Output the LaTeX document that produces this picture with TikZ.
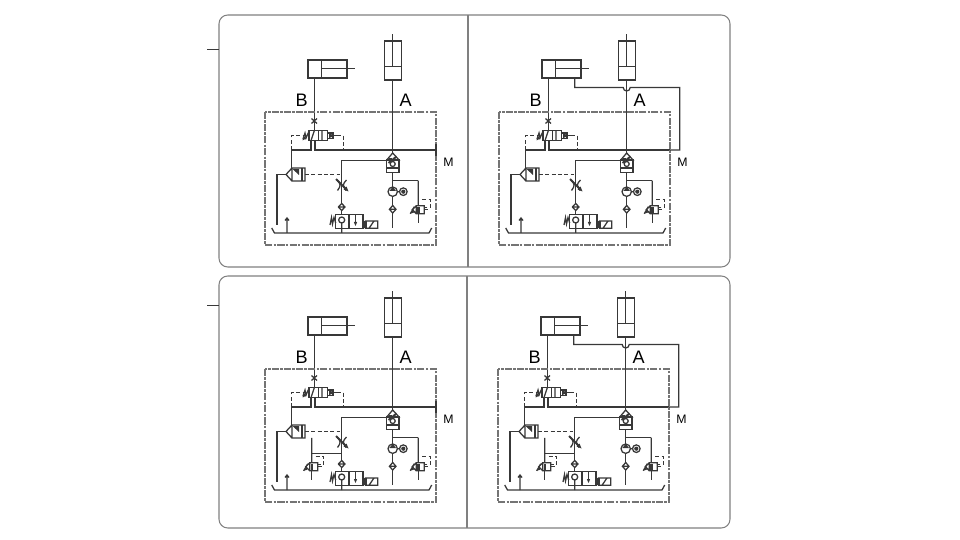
\documentclass[tikz,border=0pt]{standalone}
\usepackage{fontspec}
\setmainfont{Liberation Sans}
\definecolor{ink}{gray}{0.22}
\definecolor{rim}{gray}{0.5}
\tikzset{
  pipe/.style={draw=ink,line width=.72pt},
  heavy/.style={draw=ink,line width=1.1pt},
  pilot/.style={draw=ink,line width=.72pt,dash pattern=on 2.2pt off 1.4pt},
  solid/.style={fill=ink,draw=none},
  hull/.style={draw=rim,line width=.6pt,rounded corners=5pt},
  zone/.style={draw=ink!70,line width=.72pt,dash pattern=on 4pt off .7pt on 1.5pt off .7pt},
  bigtag/.style={inner sep=0pt,font=\fontsize{10.3}{12}\selectfont},
  smalltag/.style={inner sep=0pt,font=\fontsize{7}{8}\selectfont},
  reliefvalve/.pic={
    \draw[pipe] (0,0) -- (0,25) (-2,25) rectangle (6,33) (-2,25) -- (-6,29) -- (-2,33);
    \draw[pipe] (0,33) -- (0,42) (6,29) -- (10,29);
    \draw[pilot] (4,19) -- (12,19) -- (12,27) -- (6,27);
    \draw[pipe] (-8,33) -- (-4,26);
    \fill[solid] (-8.5,33) -- (-5,29) -- (-4.5,32) -- cycle;
    \fill[solid] (-1,26) rectangle (1.5,32);
  },
  circuit/.pic={
    % cylinders
    \draw[pipe] (308,60) rectangle (347,78) (321.7,60) -- (321.7,78);
    \draw[pipe] (321.7,68.7) -- (354.5,68.7);
    \draw[pipe] (384.3,41) rectangle (401.7,80);
    \draw[heavy] (384.3,66.5) -- (401.7,66.5);
    \draw[pipe] (392.7,34.5) -- (392.7,66.5) (392.7,80) -- (392.7,153);
    % change-over valve
    \draw[pipe] (314.3,78) -- (314.3,130.7);
    \draw[pipe] (311.5,118.5) -- (317,123.5) (317,118.5) -- (311.5,123.5);
    \draw[pipe] (309,130.7) rectangle (327.7,140.7) (318.4,130.7) -- (318.4,140.7);
    \draw[pipe] (314.3,130.7) -- (311,140.7) (322,130.7) -- (322,140.7);
    \draw[pipe] (303,139) -- (305,133) -- (306,138) -- (308,133.5) -- (309,136);
    \fill[solid] (302.5,140.5) -- (303.5,136) -- (306.5,138.5) -- cycle;
    \draw[pipe] (327.7,133) rectangle (333,138.5) (333,135.7) -- (337,135.7);
    \fill[solid] (329,133.2) -- (334.5,135.7) -- (329,138.2) -- cycle;
    \draw[pilot] (291.7,150) -- (291.7,135.7) -- (303.5,135.7);
    \draw[pilot] (337,135.7) -- (343.3,135.7) -- (343.3,150);
    \draw[pipe] (311,140.7) -- (311,150) -- (291.7,150) -- (291.7,168);
    \draw[pipe] (315,140.7) -- (315,150) -- (436,150);
    % pilot check
    \draw[pipe] (292,168) rectangle (305,181) (286,174.5) -- (292,168) (286,174.5) -- (292,181);
    \draw[heavy] (302,168) -- (302,181);
    \fill[solid] (292.5,169) -- (299,169) -- (299,175) -- cycle;
    \draw[pipe] (286,174.5) -- (277,174.5) -- (277,225);
    \draw[pilot] (305,174.5) -- (341.7,174.5);
    % throttle branch
    \draw[pipe] (386.7,160.7) -- (341.7,160.7) -- (341.7,203.5);
    \draw[pipe] (337,180) .. controls (341,184) and (341,186) .. (337.5,190.5);
    \draw[pipe] (346.5,180) .. controls (342.5,184) and (342.5,186) .. (346,190.5);
    \draw[heavy] (336,179) -- (346,189);
    \fill[solid] (348.5,191.5) -- (343.5,189.5) -- (346.5,186.5) -- cycle;
    \draw[pipe] (341.7,203.5) -- (345,207) -- (341.7,210.5) -- (338.4,207) -- cycle (338.4,207) -- (345,207);
    \draw[pipe] (341.7,210.5) -- (341.7,214.3);
    % logic block
    \draw[pipe] (392.7,153) -- (386.7,160) -- (399,160) -- cycle;
    \draw[pipe] (386.7,160) rectangle (399,172.7);
    \draw[heavy] (386.7,168) -- (399,168);
    \draw[pipe] (392.7,164) circle[radius=2.5];
    \draw[heavy] (388.5,163) -- (396.5,156.5);
    \fill[solid] (389,158) rectangle (392,161);
    % pump line
    \draw[pipe] (392.7,172.7) -- (392.7,187) (392.7,196.5) -- (392.7,205.5) (392.7,213) -- (392.7,228);
    \draw[pipe] (392.7,180.7) -- (418.3,180.7);
    \draw[pipe] (392.7,191.7) circle[radius=4.7];
    \fill[solid] (392.7,187) -- (389.3,191) -- (396.1,191) -- cycle;
    \draw[pipe] (397.4,191.7) -- (399.5,191.7) (403.3,191.7) circle[radius=3.8];
    \fill[solid] (403.3,191.7) circle[radius=2.1];
    \draw[pipe] (392.7,205.5) -- (396,209.3) -- (392.7,213) -- (389.4,209.3) -- cycle (389.4,209.3) -- (396,209.3);
    % solenoid valve
    \draw[pipe] (335.7,214.3) rectangle (363,228.3) (349,214.3) -- (349,228.3);
    \draw[pipe] (341.7,220) circle[radius=3] (341.7,223) -- (341.7,233);
    \draw[pipe] (330,225) -- (331.5,217.5) -- (332.5,224) -- (334,217.5) -- (335.7,223);
    \draw[pipe] (355.5,214.3) -- (355.5,224);
    \fill[solid] (355.5,226) -- (353.8,222) -- (357.2,222) -- cycle;
    \draw[pipe] (365.5,221) rectangle (377.7,228.3) (369,228.3) -- (374,221);
    \fill[solid] (363,221) rectangle (366.5,228.3);
    % tank
    \draw[pipe] (271.7,228) -- (274.5,233) -- (429,233) -- (431.7,228);
    \draw[pipe] (287,233) -- (287,218) (285,220.5) -- (287,218) -- (289,220.5);
    % box
    \draw[zone] (265,112) rectangle (436,245);
  },
  returnline/.pic={
    \draw[pipe] (340.7,78) -- (340.7,87.5) -- (389.2,87.5) arc[start angle=180,end angle=0,radius=3.5] -- (445.7,87.5) -- (445.7,150) -- (436,150);
  },
  endbar/.pic={
    \draw[heavy] (436,144) -- (436,155.7);
  },
  sparevalve/.pic={
    \draw[pipe] (341.7,196.7) -- (311.7,196.7);
  }
}
\begin{document}
\begin{tikzpicture}[x=0.02cm,y=-0.02cm]
  \useasboundingbox (0,0) rectangle (960,540);
  \draw[hull] (219,15) rectangle (730,267);
  \draw[hull] (219,276) rectangle (730,528);
  \draw[rim,line width=.6pt] (468,15) -- (468,267) (467,276) -- (467,528);
  \draw[ink,line width=.5pt] (207,49) -- (219,49) (207,305.7) -- (219,305.7);

  % the four states
  \foreach \dx/\dy/\n in {0/0/p,234/0/q,0/257/r,233/257/s}
  {
    \pic at (\dx,\dy) {circuit};
    \pic at (418.3+\dx,180.7+\dy) {reliefvalve};
    \node[bigtag] (tagB\n) at (301.7+\dx,100.7+\dy) {B};
    \node[bigtag] (tagA\n) at (405.7+\dx,100.7+\dy) {A};
    \node[smalltag] (tagM\n) at (448.5+\dx,162.7+\dy) {M};
  }
  \pic at (0,0) {endbar};
  \pic at (0,257) {endbar};
  \pic at (234,0) {returnline};
  \pic at (233,257) {returnline};
  \pic at (0,257) {sparevalve};
  \pic at (233,257) {sparevalve};
  \pic at (311.7,180.8+257) {reliefvalve};
  \pic at (311.7+233,180.8+257) {reliefvalve};
\end{tikzpicture}
\end{document}
